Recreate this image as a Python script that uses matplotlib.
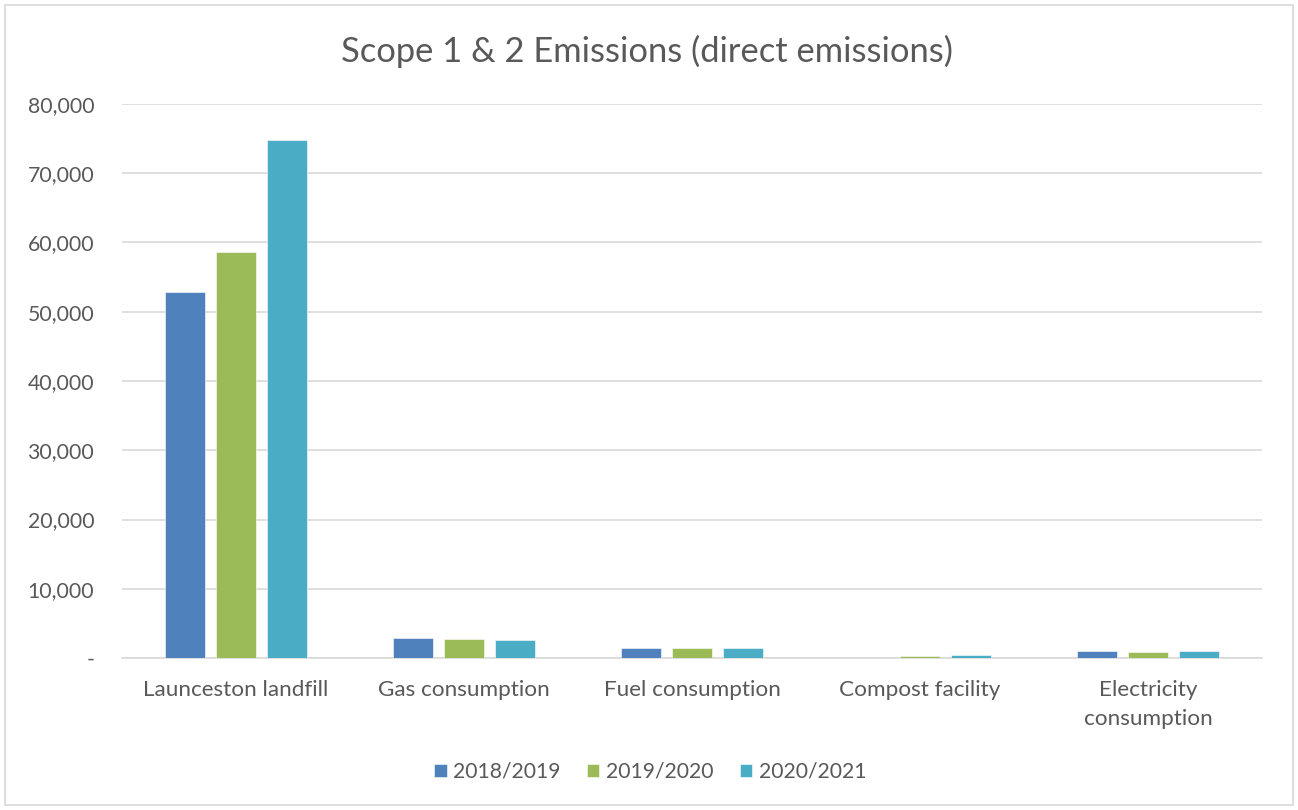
import matplotlib
matplotlib.use("Agg")
import matplotlib.pyplot as plt
from matplotlib.patches import Rectangle
from matplotlib.ticker import FuncFormatter
import numpy as np

categories = ["Launceston landfill", "Gas consumption", "Fuel consumption",
              "Compost facility", "Electricity\nconsumption"]
series_names = ["2018/2019", "2019/2020", "2020/2021"]
v_2018_19 = [52900, 2840, 1440, 40, 1000]
v_2019_20 = [58600, 2700, 1420, 290, 850]
v_2020_21 = [74800, 2550, 1420, 430, 1060]
colors = ["#4F81BD", "#9BBB59", "#4BACC6"]
y_ticks = [0, 10000, 20000, 30000, 40000, 50000, 60000, 70000, 80000]

plt.rcParams["font.family"] = ["Lato", "DejaVu Sans"]
text_color = "#595959"

fig = plt.figure(figsize=(12.98, 8.10), dpi=100)
fig.patches.append(Rectangle((5 / 1298, 5 / 810), 1288 / 1298, 800 / 810,
                             transform=fig.transFigure, fill=False,
                             edgecolor="#D9D9D9", linewidth=1.2))

ax = fig.add_axes([122 / 1298, 1 - 658 / 810, 1140 / 1298, 554 / 810])

x = np.arange(len(categories))
width = 0.175
step = 0.224
for i, (vals, name) in enumerate(zip([v_2018_19, v_2019_20, v_2020_21], series_names)):
    ax.bar(x + (i - 1) * step, vals, width, color=colors[i], label=name,
           edgecolor="white", linewidth=0.4, zorder=3)

ax.set_xlim(-0.5, len(categories) - 0.5)
ax.set_ylim(0, 80000)
ax.set_yticks(y_ticks)
ax.yaxis.set_major_formatter(FuncFormatter(lambda v, p: "-" if v == 0 else f"{int(v):,}"))
ax.grid(axis="y", color="#D9D9D9", linewidth=1.2, zorder=0)
ax.set_axisbelow(True)
for s in ["top", "right", "left"]:
    ax.spines[s].set_visible(False)
ax.spines["bottom"].set_color("#D9D9D9")
ax.spines["bottom"].set_linewidth(1.2)
ax.tick_params(axis="y", length=0, pad=20, labelsize=15.3, labelcolor=text_color)
ax.tick_params(axis="x", length=0, pad=16, labelsize=16.2, labelcolor=text_color)
ax.set_xticks(x)
ax.set_xticklabels(categories, linespacing=1.55)

fig.text(647 / 1298, 1 - 51 / 810, "Scope 1 & 2 Emissions (direct emissions)",
         ha="center", va="center", fontsize=24.8, color=text_color)

fig.legend(loc="center", bbox_to_anchor=(650 / 1298, 1 - 772 / 810), ncol=3,
           frameon=False, fontsize=15.2, labelcolor=text_color,
           handlelength=0.6, handleheight=0.6, handletextpad=0.3, columnspacing=1.25)

fig.savefig("out.png", dpi=100, facecolor="white")
